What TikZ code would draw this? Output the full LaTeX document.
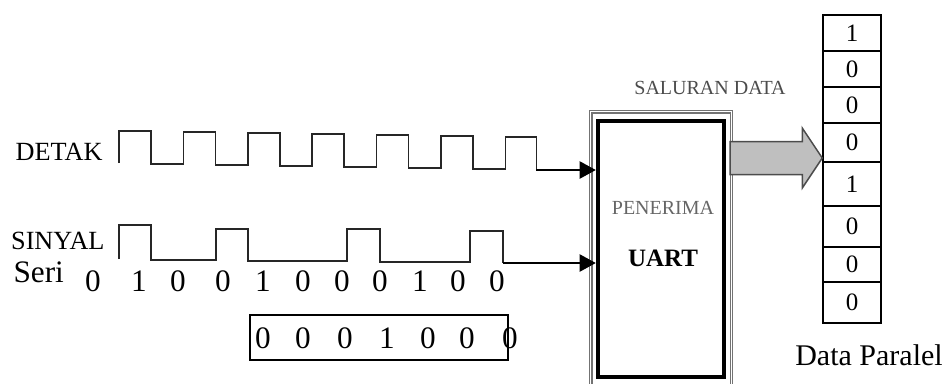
\documentclass[tikz,border=0pt]{standalone}
\usepackage{fontspec}
\setmainfont{Liberation Serif}
\usetikzlibrary{arrows.meta,calc}

\tikzset{
  wave/.style={line width=0.7pt, black!85},
  inarrow/.style={line width=0.5pt, -{Triangle[length=6.5pt,width=7pt]}},
  lbl/.style={font=\fontsize{10.5}{12}\selectfont, inner sep=0pt},
  bit/.style={font=\fontsize{12.5}{14}\selectfont, inner sep=0pt},
  cell/.style={draw, line width=0.6pt, minimum width=23.2pt, inner sep=0pt, font=\fontsize{10}{12}\selectfont},
  uartbox/.style={draw, line width=1.8pt, minimum width=50.4pt, minimum height=102.4pt},
  busarrow/.style={draw=black!70, fill=black!25, line width=0.6pt},
}

\begin{document}
\begin{tikzpicture}[x=0.4pt, y=-0.4pt]
	\useasboundingbox (0,0) rectangle (944,383);

	% receiver
	\node [uartbox] (uart) at (661,249) {};
	\draw [black!55, double=white, double distance=0.5pt, line width=0.45pt] ($(uart.north west)+(-5,-7)$) rectangle ($(uart.south east)+(5,7)$);
	\node [font=\fontsize{8}{10}\selectfont, text=black!60] (pen) at (663,208) {PENERIMA};
	\node [font=\fontsize{10}{12}\selectfont\bfseries] (uartlbl) at (663,258) {UART};
	\node [font=\fontsize{8}{10}\selectfont, text=black!70] (sal) at (710,88) {SALURAN DATA};

	% parallel output
	\foreach \t/\b/\v [count=\i] in {15/51/1,51/87/0,87/123/0,123/162/0,162/206/1,206/247/0,247/282/0,282/323/0}
		\node [cell, minimum height={(\b-\t)*0.4pt}] (r\i) at (852,{(\t+\b)/2}) {\v};
	\node [font=\fontsize{12}{14}\selectfont] (dp) at (869,355) {Data Paralel};

	\coordinate (bus-start) at (730,158);
	\coordinate (bus-tip) at (bus-start -| r4.west);
	\draw [busarrow] ($(bus-start)+(0,-16.5)$) -- ($(bus-tip)+(-20,-16.5)$) -- ($(bus-tip)+(-20,-30)$) -- (bus-tip)
		-- ($(bus-tip)+(-20,30)$) -- ($(bus-tip)+(-20,16.5)$) -- ($(bus-start)+(0,16.5)$) -- cycle;

	% clock
	\node [lbl, anchor=east] (detak) at (103,152) {DETAK};
	\draw [wave] (119,163) foreach \i in {1,...,6} { -- ++(0,-32) -- ++(32,0) -- ++(0,33) -- ++(32.4,0) }
		-- ++(0,-32) -- ++(31,0) -- ++(0,33) coordinate (clk-end);
	\draw [inarrow] (clk-end) -- (clk-end -| uart.west);

	% serial line
	\node [lbl, anchor=east] (sinyal) at (105,241) {SINYAL};
	\node [font=\fontsize{12.5}{14}\selectfont, inner sep=0pt, anchor=west] (seri) at (13,272) {Seri};
	\draw [wave] (119,259) |- (151,225) |- (216,260) |- (248,229) |- (347,261) |- (380,229) |- (470,262) |- (503,231) -- (503,263) coordinate (sig-end);
	\draw [inarrow] (sig-end) -- (sig-end -| uart.west);

	\foreach \x/\v [count=\i] in {93/0,139/1,178/0,223/0,263/1,303/0,342/0,380/0,420/1,458/0,497/0}
		\node [bit] (b\i) at (\x,281) {\v};

	% received byte
	\node [draw, line width=0.6pt, minimum width=103.2pt, minimum height=18pt, inner sep=0pt] (buf) at (379,337.5) {};
	\foreach \x/\v [count=\i] in {263/0,303/0,345/0,387/1,428/0,467/0,510/0}
		\node [bit] (s\i) at (\x,338) {\v};
\end{tikzpicture}
\end{document}
